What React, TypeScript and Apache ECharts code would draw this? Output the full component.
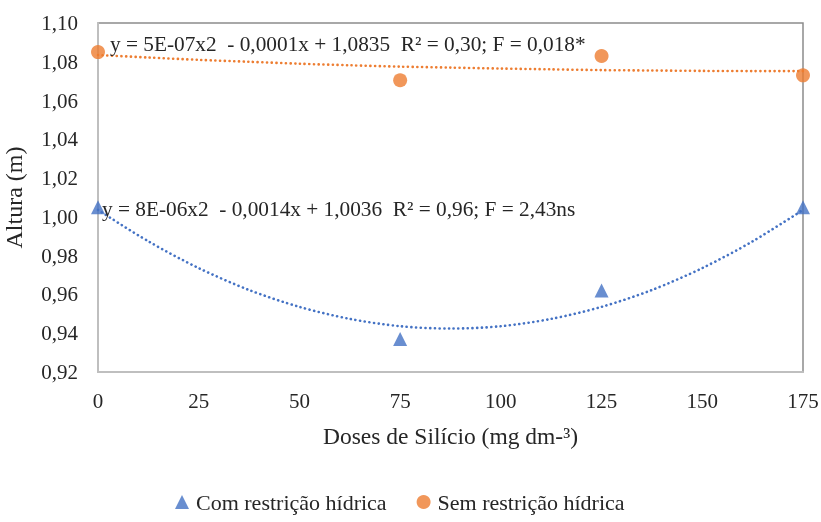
import React, { useEffect, useRef } from "react";
import * as echarts from "echarts";

const doses = [0, 75, 125, 175];
const comRestricao = [1.005, 0.937, 0.962, 1.005];
const semRestricao = [1.085, 1.0705, 1.083, 1.073];

const trendX = [0, 12.5, 25, 37.5, 50, 62.5, 75, 87.5, 100, 112.5, 125, 137.5, 150, 162.5, 175];
const trendCom = [1.0036, 0.9874, 0.9736, 0.9623, 0.9536, 0.9474, 0.9436, 0.9424, 0.9436, 0.9474, 0.9536, 0.9623, 0.9736, 0.9874, 1.0036];
const trendSem = [1.0835, 1.0822, 1.081, 1.08, 1.079, 1.0782, 1.0775, 1.077, 1.0765, 1.0761, 1.0757, 1.0755, 1.0753, 1.0752, 1.0752];

const eqSem = "y = 5E-07x2  - 0,0001x + 1,0835  R² = 0,30; F = 0,018*";
const eqCom = "y = 8E-06x2  - 0,0014x + 1,0036  R² = 0,96; F = 2,43ns";

const BLUE = "#4472C4";
const ORANGE = "#ED7D31";
const TEXT = "#262626";
const FONT = "'Liberation Serif', 'Times New Roman', 'DejaVu Serif', serif";

export default function App() {
  const ref = useRef<HTMLDivElement>(null);
  useEffect(() => {
    if (!ref.current) return;
    const chart = echarts.init(ref.current, undefined, { renderer: "svg" });
    const pair = (xs: number[], ys: number[]) => xs.map((x, i) => [x, ys[i]]);
    chart.setOption({
      animation: false,
      textStyle: { fontFamily: FONT },
      grid: {
        left: 98,
        top: 23,
        right: 18,
        bottom: 150,
        outerBoundsMode: "none",
        containLabel: false,
        show: true,
        borderColor: "#8c8c8c",
        borderWidth: 1.5,
        backgroundColor: "transparent",
      },
      legend: {
        top: 491,
        left: 175,
        padding: 0,
        itemGap: 30,
        itemWidth: 14,
        itemHeight: 14,
        data: [
          { name: "Com restrição hídrica", icon: "triangle" },
          { name: "Sem restrição hídrica", icon: "circle" },
        ],
        textStyle: { fontFamily: FONT, fontSize: 22, color: TEXT, padding: [0, 0, 0, 2] },
      },
      xAxis: {
        type: "value",
        min: 0,
        max: 175,
        interval: 25,
        name: "Doses de Silício (mg dm-³)",
        nameLocation: "middle",
        nameGap: 52,
        nameTextStyle: { fontFamily: FONT, fontSize: 23.5, color: TEXT },
        axisLine: { show: true, onZero: false, lineStyle: { color: "#bfbfbf", width: 2 } },
        axisTick: { show: false },
        splitLine: { show: false },
        axisLabel: { fontFamily: FONT, fontSize: 21, color: TEXT, margin: 18 },
      },
      yAxis: {
        type: "value",
        min: 0.92,
        max: 1.1,
        interval: 0.02,
        name: "Altura (m)",
        nameLocation: "middle",
        nameGap: 72,
        nameRotate: 90,
        nameTextStyle: { fontFamily: FONT, fontSize: 24, color: TEXT },
        axisLine: { show: true, lineStyle: { color: "#bfbfbf", width: 2 } },
        axisTick: { show: false },
        splitLine: { show: false },
        axisLabel: {
          fontFamily: FONT,
          fontSize: 21,
          color: TEXT,
          margin: 20,
          formatter: (v: number) => v.toFixed(2).replace(".", ","),
        },
      },
      series: [
        {
          name: "Trend Com",
          type: "line",
          smooth: 0.3,
          symbol: "none",
          data: pair(trendX, trendCom),
          lineStyle: { color: BLUE, width: 2.6, type: [0.1, 4.6], cap: "round" },
          z: 2,
        },
        {
          name: "Trend Sem",
          type: "line",
          smooth: 0.3,
          symbol: "none",
          data: pair(trendX, trendSem),
          lineStyle: { color: ORANGE, width: 2.6, type: [0.1, 4.6], cap: "round" },
          z: 2,
        },
        {
          name: "Com restrição hídrica",
          type: "scatter",
          symbol: "triangle",
          symbolSize: 14,
          itemStyle: { color: BLUE },
          data: pair(doses, comRestricao),
          z: 3,
        },
        {
          name: "Sem restrição hídrica",
          type: "scatter",
          symbol: "circle",
          symbolSize: 14,
          itemStyle: { color: ORANGE },
          data: pair(doses, semRestricao),
          z: 3,
        },
      ],
      graphic: [
        {
          type: "text",
          x: 110,
          y: 44,
          z: 10,
          style: { text: eqSem, fontFamily: FONT, fontSize: 21.3, fill: TEXT, verticalAlign: "middle" },
        },
        {
          type: "text",
          x: 102,
          y: 209,
          z: 10,
          style: { text: eqCom, fontFamily: FONT, fontSize: 21.3, fill: TEXT, verticalAlign: "middle" },
        },
      ],
    });
    return () => chart.dispose();
  }, []);
  return (
    <div
      ref={ref}
      style={{ position: "fixed", left: 0, top: 0, width: 821, height: 522 }}
    />
  );
}
